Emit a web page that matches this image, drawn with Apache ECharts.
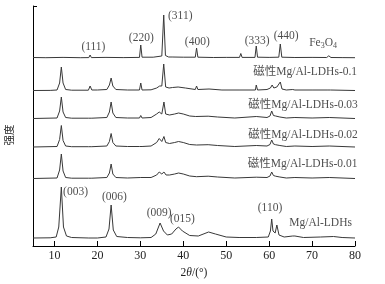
<!DOCTYPE html>
<html><head><meta charset="utf-8">
<script src="https://cdn.jsdelivr.net/npm/echarts@6/dist/echarts.min.js"></script>
<style>html,body{margin:0;padding:0;background:#fff}#c{width:385px;height:284px}</style>
</head><body><div id="c"></div>
<script>
// 2θ (deg), intensity above each pattern's baseline (arbitrary units)
const fe3o4 = [[5,0.5],[8,0.3],[12,0.6],[16,0.3],[18.0,0.4],[18.3,3],[18.6,0.4],[22,0.6],[26,0.4],[29.8,0.6],[30.1,13],[30.4,0.8],[33,0.8],[35.0,2],[35.45,43],[35.85,2.5],[36.6,1],[37.05,3],[37.4,1],[40,0.8],[42.8,0.8],[43.1,10],[43.4,0.8],[47,0.5],[50,0.6],[53.1,0.6],[53.4,4.5],[53.7,0.6],[56.7,0.6],[57.0,12],[57.3,0.8],[60,0.6],[62.25,0.8],[62.6,14],[62.95,0.8],[66,0.5],[70,0.6],[73.4,0.5],[73.9,2.2],[74.4,0.5],[77,0.4],[80,0.3]];
const ldh01 = [[5,0.5],[9,0.6],[10.6,1],[11.2,8],[11.6,24],[12.0,8],[12.6,1.5],[14,0.8],[17.9,0.8],[18.3,5],[18.7,1],[20,1],[22.2,1.5],[22.8,6],[23.2,13],[23.6,5],[24.3,1.5],[27,1],[29.8,1],[30.1,8],[30.4,1],[32.5,1.2],[33.8,3],[34.5,5],[35.0,5],[35.45,27],[35.9,4],[36.7,3],[37.5,3.5],[38.8,4],[40.5,3],[42.8,1.5],[43.1,5],[43.4,1.5],[46,2],[49,1],[53.2,1],[53.4,2.5],[53.6,1],[56.8,1],[57.0,6],[57.3,1],[59.5,1.5],[60.3,3],[60.7,6],[61.1,3],[61.8,4],[62.6,9],[63.0,2],[64,1],[65.5,1.5],[66,1],[70,1],[73.5,1],[73.9,2],[74.3,1],[80,0.5]];
const ldh003 = [[5,0.5],[10.6,1],[11.2,8],[11.6,22],[12.0,7],[12.6,1.5],[14,0.8],[17.9,0.8],[18.3,2.5],[18.7,0.8],[22.2,1.5],[22.8,7],[23.2,17],[23.6,6],[24.3,1.5],[27,1],[29.8,1],[30.1,3.5],[30.4,1],[32.5,1.5],[33.8,5],[34.4,7],[35.0,5],[35.5,17],[35.9,5],[36.8,4],[38.0,5],[38.9,6],[40,5],[41.5,3],[42.9,2.5],[43.1,3.5],[43.3,2.5],[45.8,2.8],[48,2],[52,1],[57,2.5],[59.5,1.5],[60.2,3],[60.6,8],[61.0,3.5],[61.5,3],[61.9,4.5],[62.5,2],[64,1],[66,1.5],[70,1],[74,1.5],[80,0.5]];
const ldh002 = [[5,0.5],[10.6,1],[11.2,8],[11.6,22],[12.0,7],[12.6,1.5],[14,0.8],[17.9,0.8],[18.3,2],[18.7,0.8],[22.2,1.5],[22.8,6],[23.2,14],[23.6,5],[24.3,1.5],[27,1],[29.8,1],[30.1,2.5],[30.4,1],[32.5,1.5],[33.8,5],[34.4,9],[35.0,6],[35.5,11],[35.9,5],[36.8,4],[38.0,5],[38.9,6],[40,5],[41.5,3],[43.1,2.5],[45.8,2.8],[48,2],[52,1],[57,2],[59.5,1.5],[60.2,3],[60.6,7.5],[61.0,3.5],[61.5,2.8],[61.9,4],[62.5,2],[64,1],[66,1.5],[70,1],[74,1.5],[80,0.5]];
const ldh001 = [[5,0.5],[10.6,1],[11.2,9],[11.6,25],[12.0,8],[12.6,1.5],[14,0.8],[17.9,0.8],[18.3,1.5],[18.7,0.8],[22.2,1.5],[22.8,6],[23.2,15],[23.6,5],[24.3,1.5],[27,1],[30.1,1.5],[32.5,1.5],[33.8,4],[34.4,7],[35.0,5],[35.5,7],[36.0,4],[36.8,4],[38.0,5],[38.9,6],[40,5],[41.5,3],[43.1,2.3],[45.8,2.8],[48,2],[52,1],[57,1.8],[59.5,1.5],[60.2,3],[60.6,7],[61.0,3.5],[61.5,2.8],[61.9,4],[62.5,2],[64,1],[66,1.5],[70,1],[74,1.5],[80,0.5]];
const ldh = [[5,1],[9,1.2],[10.4,2],[11.0,12],[11.6,52],[12.1,12],[12.8,3],[14,1.5],[18,1],[20,1],[22.0,2],[22.7,10],[23.2,34],[23.7,9],[24.5,2.5],[27,1.5],[30,1.2],[32.5,1.5],[33.6,5],[34.6,16],[35.4,8],[36.3,4],[37.3,5],[38.3,10],[38.9,12],[39.8,8],[41.5,3.5],[43.5,3],[45.9,7],[47.5,5],[50,2],[53,1.5],[57,1.5],[59.8,2],[60.3,8],[60.6,20],[60.9,8],[61.4,6],[61.8,14],[62.3,4],[63.5,2],[65.5,3],[66,3],[68,1.5],[72,2],[75,2.5],[77,1.5],[80,1]];

const seriesNames = ['Fe3O4','磁性Mg/Al-LDHs-0.1','磁性Mg/Al-LDHs-0.03','磁性Mg/Al-LDHs-0.02','磁性Mg/Al-LDHs-0.01','Mg/Al-LDHs'];
const seriesData = [fe3o4, ldh01, ldh003, ldh002, ldh001, ldh];
const offsets = [188, 155, 127, 98.5, 67, 7];

const xTicks = [10,20,30,40,50,60,70,80];

// annotations: [2θ, y, text]
const annotations = [
  [19.07,199.3,'(111)'],[30.23,208,'(220)'],[39.3,230,'(311)'],[43.26,204,'(400)'],
  [57.2,205.3,'(333)'],[63.95,210.3,'(440)'],[72.56,202.7,'Fe{s|3}O{s|4}'],
  [68.4,173.7,'磁性Mg/Al-LDHs-0.1'],[67.9,141,'磁性Mg/Al-LDHs-0.03'],
  [67.9,111,'磁性Mg/Al-LDHs-0.02'],[67.8,81.7,'磁性Mg/Al-LDHs-0.01'],
  [72,22.7,'Mg/Al-LDHs'],[60.2,37.7,'(110)'],[14.9,54.3,'(003)'],
  [23.95,49.3,'(006)'],[34.4,33.3,'(009)'],[39.8,26.7,'(015)']
];

const FONT = "'Liberation Serif','Noto Sans CJK SC',serif";
const chart = echarts.init(document.getElementById('c'), null, {renderer:'canvas'});
const series = seriesData.map((d,i)=>({
  name: seriesNames[i], type:'line', showSymbol:false, symbol:'none', animation:false,
  lineStyle:{color:'#383838', width:1}, data: d.map(p=>[p[0], p[1]+offsets[i]])
}));
series.push({
  type:'scatter', animation:false, symbolSize:1, itemStyle:{color:'rgba(0,0,0,0)'}, silent:true, clip:false,
  data: annotations.map(a=>({value:[a[0],a[1]], name:a[2]})),
  label:{show:true, position:'inside', formatter:p=>p.name, color:'#222', fontFamily:FONT, fontSize:11.5,
    align:'center', verticalAlign:'middle',
    rich:{s:{fontSize:8, fontFamily:FONT, color:'#222', verticalAlign:'bottom', padding:[6,0,0,0]}}},
  labelLayout:{hideOverlap:false}
});
chart.setOption({
  backgroundColor:'#fff',
  animation:false,
  grid:{left:33, right:30, top:6, bottom:38, outerBoundsMode:'none', containLabel:false},
  xAxis:{type:'value', min:5, max:80,
    axisLine:{lineStyle:{color:'#000', width:1}},
    axisTick:{inside:true, length:5, customValues:xTicks, lineStyle:{color:'#000'}},
    axisLabel:{customValues:xTicks, color:'#222', fontFamily:FONT, fontSize:12, margin:4},
    splitLine:{show:false},
    name:'2{i|θ}/(°)', nameLocation:'middle', nameGap:19,
    nameTextStyle:{color:'#222', fontFamily:FONT, fontSize:11.5, rich:{i:{fontStyle:'italic', fontFamily:FONT, fontSize:11.5, color:'#222'}}}
  },
  yAxis:{type:'value', min:0, max:240,
    axisLine:{show:true, lineStyle:{color:'#000', width:1}},
    axisTick:{show:true, inside:true, length:4, customValues:[240], lineStyle:{color:'#000'}},
    axisLabel:{show:false}, splitLine:{show:false},
    name:'强度', nameLocation:'middle', nameGap:18, nameRotate:90,
    nameTextStyle:{color:'#222', fontFamily:FONT, fontSize:10.5, padding:[0,18,0,0]}
  },
  series: series
});
</script></body></html>
